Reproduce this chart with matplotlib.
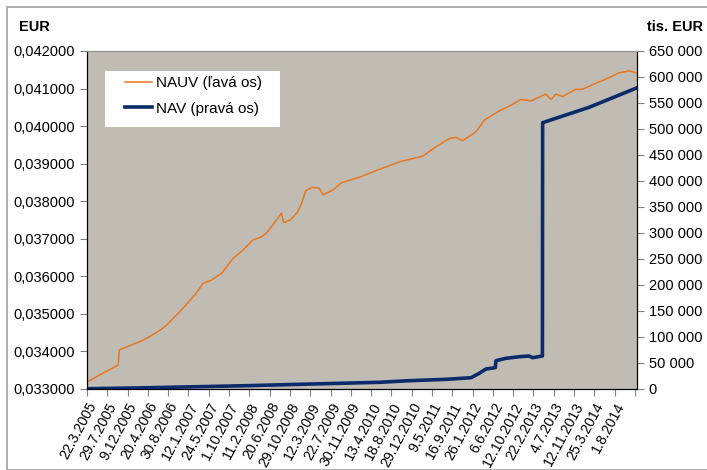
import numpy as np
import matplotlib
matplotlib.use("Agg")
import matplotlib.pyplot as plt
from matplotlib.ticker import FuncFormatter, FixedLocator
from matplotlib.patches import Rectangle

plt.rcParams["font.family"] = ["Liberation Sans", "DejaVu Sans"]

# category labels on the x axis (one every ~90 trading days)
dates = ["22.3.2005", "29.7.2005", "9.12.2005", "20.4.2006", "30.8.2006",
         "12.1.2007", "24.5.2007", "1.10.2007", "11.2.2008", "20.6.2008",
         "29.10.2008", "12.3.2009", "22.7.2009", "30.11.2009", "13.4.2010",
         "18.8.2010", "29.12.2010", "9.5.2011", "16.9.2011", "26.1.2012",
         "6.6.2012", "12.10.2012", "22.2.2013", "4.7.2013", "12.11.2013",
         "25.3.2014", "1.8.2014"]

# NAUV (left axis), position in label steps
nauv_pos = [0, 1.54, 1.59, 2.77, 3.51, 3.92, 4.57, 5.31, 5.72, 6.13, 6.63, 7.20,
            7.69, 8.18, 8.59, 8.84, 9.16, 9.58, 9.69, 10.02, 10.39, 10.61, 10.77,
            11.10, 11.46, 11.62, 12.12, 12.53, 13.43, 14.41, 15.40, 16.54, 17.20,
            17.86, 18.19, 18.51, 19.17, 19.41, 19.58, 19.99, 20.40, 20.81, 21.38,
            21.87, 22.28, 22.61, 22.86, 23.10, 23.43, 24.09, 24.41, 25.07, 25.56,
            26.22, 26.71, 27.04]
nauv = [0.03319, 0.03364, 0.03404, 0.03430, 0.03453, 0.03470, 0.03506, 0.03550,
        0.03581, 0.03590, 0.03608, 0.03648, 0.03670, 0.03697, 0.03705, 0.03715,
        0.03737, 0.03768, 0.03743, 0.03750, 0.03772, 0.03799, 0.03828, 0.03837,
        0.03834, 0.03817, 0.03830, 0.03849, 0.03864, 0.03885, 0.03905, 0.03920,
        0.03945, 0.03967, 0.03970, 0.03961, 0.03985, 0.04003, 0.04016, 0.04030,
        0.04043, 0.04053, 0.04071, 0.04067, 0.04077, 0.04085, 0.04071, 0.04085,
        0.04079, 0.04098, 0.04098, 0.04114, 0.04125, 0.04142, 0.04147, 0.04142]

# NAV in tis. EUR (right axis)
nav_pos = [0, 3.1, 8.02, 10.48, 14.41, 15.89, 17.69, 18.92, 19.33, 19.66, 20.12,
           20.15, 20.64, 21.30, 21.79, 21.95, 22.44, 22.45, 23.10, 24.74, 27.04]
nav = [500, 2500, 6500, 9000, 12900, 16000, 18600, 21700, 30200, 38500, 41000,
       54400, 59000, 62100, 63500, 60200, 63500, 512100, 520600, 541700, 578300]

orange = "#E8771F"
navy = "#0B2A6B"

fig = plt.figure(figsize=(7.07, 4.70), dpi=100)
fig.patches.append(Rectangle((7 / 707, 0), 1, 1 - 7 / 470, transform=fig.transFigure,
                             fill=False, edgecolor="#A0A0A0", linewidth=1.2))

ax = fig.add_axes([87 / 707, 81 / 470, 550 / 707, 338 / 470])
ax.set_facecolor("#C0BCB4")
l1, = ax.plot(nauv_pos, nauv, color=orange, lw=1.1, label="NAUV (ľavá os)")
ax.set_ylim(0.033, 0.042)
ax.set_xlim(0, 27.1)
ax.set_yticks(np.arange(0.033, 0.04201, 0.001))
ax.yaxis.set_major_formatter(FuncFormatter(lambda v, p: f"{v:.6f}".replace(".", ",")))

ax.xaxis.set_major_locator(FixedLocator(np.arange(0, 28)))
ax.set_xticklabels(dates + [""], rotation=62, ha="right", va="top",
                   rotation_mode="anchor", fontsize=10.2)

ax2 = ax.twinx()
l2, = ax2.plot(nav_pos, nav, color=navy, lw=2.6, label="NAV (pravá os)")
ax2.set_ylim(0, 650000)
ax2.set_yticks(np.arange(0, 650001, 50000))
ax2.yaxis.set_major_formatter(FuncFormatter(lambda v, p: f"{int(v):,}".replace(",", " ")))

for a in (ax, ax2):
    a.tick_params(axis="y", labelsize=10.5)
    a.tick_params(length=5, width=0.8, colors="#808080", labelcolor="black")
    a.spines["top"].set_color("#909090")
    a.spines["left"].set_color("black")
    a.spines["right"].set_color("black")
    a.spines["bottom"].set_color("black")
ax.tick_params(axis="x", pad=3)

# white legend box
ax2.add_patch(Rectangle((0.0327, 0.775), 0.318, 0.166, transform=ax2.transAxes,
                        facecolor="white", edgecolor="none", zorder=5))
leg = ax2.legend(handles=[l1, l2], loc="upper left", bbox_to_anchor=(0.069, 0.925),
                 borderaxespad=0, borderpad=0, frameon=False, fontsize=11,
                 handlelength=1.75, handletextpad=0.25, labelspacing=0.75)
leg.set_zorder(6)

fig.text(19 / 707, 1 - 27 / 470, "EUR", fontsize=10.5, fontweight="bold", va="center")
fig.text(703 / 707, 1 - 27 / 470, "tis. EUR", fontsize=10.5, fontweight="bold",
         va="center", ha="right")

fig.savefig("out.png", dpi=100)
